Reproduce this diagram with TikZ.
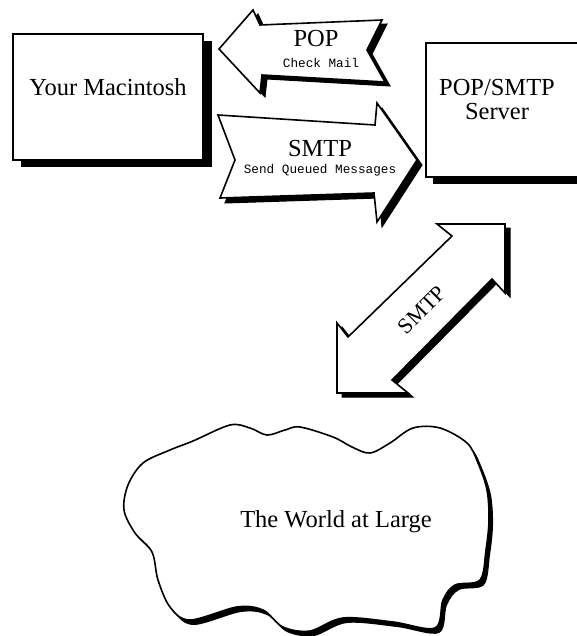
\documentclass[tikz,border=0pt]{standalone}
\usepackage{fontspec}
\setmainfont{Liberation Serif}
\setmonofont{Liberation Mono}
\begin{document}
\begin{tikzpicture}[x=1pt,y=-1pt,
  outline/.style={draw=black,fill=white,line width=1.6pt,line join=miter},
  shade/.style={fill=black,draw=black,line width=1pt},
  big/.style={font=\fontsize{24.5}{28}\selectfont\rmfamily,inner sep=0pt},
  small/.style={font=\fontsize{12.7}{14}\selectfont\ttfamily,inner sep=0pt}]
\useasboundingbox (0,0) rectangle (577,636);
\clip (0,0) rectangle (577,636);
% Mac box
\fill (21,41) rectangle (212,167);
\draw[outline] (13,34) rectangle (203,160);
\node[big,anchor=base] (mac) at (108,96) {Your Macintosh};
% Server box
\fill (433,50) rectangle (590,184);
\draw[outline] (426,43) rectangle (590,177);
\node[big,anchor=base] (srv1) at (497,96) {POP/SMTP};
\node[big,anchor=base] (srv2) at (497,120) {Server};
% POP arrow
\fill[shade,shift={(5,4)}] (219,49) -- (253,10) -- (260,25) -- (382,20) -- (367,50) -- (385,82) -- (262,75) -- (260,93) -- cycle;
\draw[outline] (219,49) -- (253,10) -- (260,25) -- (382,20) -- (367,50) -- (385,82) -- (262,75) -- (260,93) -- cycle;
\node[big,anchor=base] (pop) at (316,47) {POP};
\node[small,anchor=base] (check) at (321,68) {Check Mail};
% SMTP arrow
\fill[shade,shift={(5,5)}] (218,115) -- (375,125) -- (377,103) -- (417,160) -- (377,222) -- (374,193) -- (220,198) -- (235,160) -- cycle;
\draw[outline] (218,115) -- (375,125) -- (377,103) -- (417,160) -- (377,222) -- (374,193) -- (220,198) -- (235,160) -- cycle;
\node[big,anchor=base] (smtp) at (320,157) {SMTP};
\node[small,anchor=base] (send) at (320,174) {Send Queued Messages};
% diagonal arrow
\fill[shade,shift={(5,4)}] (437,224) -- (505,224) -- (505,293) -- (492,279) -- (392,380) -- (408,393) -- (337,393) -- (337,323) -- (348,337) -- (452,236) -- cycle;
\draw[outline] (437,224) -- (505,224) -- (505,293) -- (492,279) -- (392,380) -- (408,393) -- (337,393) -- (337,323) -- (348,337) -- (452,236) -- cycle;
\node[font=\fontsize{22}{24}\selectfont\rmfamily,inner sep=0pt,rotate=45] (dsmtp) at (422,310) {SMTP};
% cloud
\fill[shift={(4,5)}] plot[smooth cycle,tension=0.55] coordinates {(124,510) (128,485) (143,463) (170,450) (193,441) (230,425) (250,428) (267,435) (285,430) (300,427) (333,437) (352,447) (370,453) (390,443) (413,428) (440,428) (467,443) (478,463) (487,490) (489,520) (486,550) (480,580) (455,585) (443,600) (435,628) (393,622) (343,618) (310,631) (283,627) (263,610) (237,607) (190,620) (170,607) (158,580) (152,552) (135,533)};
\draw[outline] plot[smooth cycle,tension=0.55] coordinates {(124,510) (128,485) (143,463) (170,450) (193,441) (230,425) (250,428) (267,435) (285,430) (300,427) (333,437) (352,447) (370,453) (390,443) (413,428) (440,428) (467,443) (478,463) (487,490) (489,520) (486,550) (480,580) (455,585) (443,600) (435,628) (393,622) (343,618) (310,631) (283,627) (263,610) (237,607) (190,620) (170,607) (158,580) (152,552) (135,533)};
\node[big,anchor=base] (world) at (336,527) {The World at Large};
\end{tikzpicture}
\end{document}
